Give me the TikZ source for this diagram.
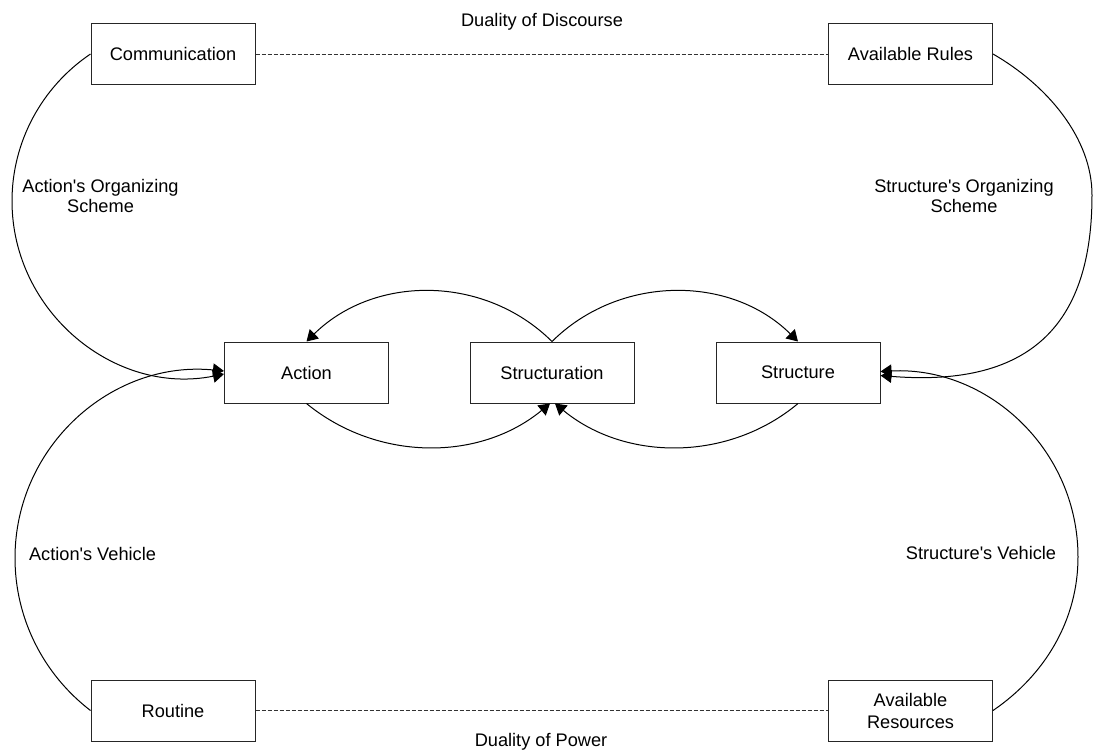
\documentclass[tikz,border=0pt]{standalone}
\usepackage{fontspec}
\setmainfont{Liberation Sans}[Ligatures=TeXOff]
\usetikzlibrary{arrows.meta}
\begin{document}
\begin{tikzpicture}[x=0.5pt,y=-0.5pt,
  every node/.style={font=\fontsize{9.1pt}{10pt}\selectfont, inner sep=0pt},
  box/.style={draw=black!85, line width=0.5pt, minimum width=82pt, minimum height=30.5pt,
    align=center, font=\fontsize{9.1pt}{11pt}\selectfont},
  lbl/.style={align=center},
  conn/.style={draw=black, line width=0.5pt, -{Triangle[length=5.5pt,width=6.5pt]}},
  duality/.style={draw=black!80, line width=0.5pt, dash pattern=on 2pt off 1pt}]
\useasboundingbox (0,0) rectangle (1093,751);

% boxes
\node[box] (comm)  at (173,54)      {Communication};
\node[box] (rules) at (910.5,54)    {Available Rules};
\node[box] (act)   at (306.5,372.5) {Action};
\node[box] (strn)  at (552,372.5)   {Structuration};
\node[box] (str)   at (798,372.5)   {Structure};
\node[box] (rout)  at (173,710.5)   {Routine};
\node[box] (res)   at (910.5,710.5) {Available\\Resources};

% dualities
\draw[duality] (comm) -- (rules);
\draw[duality] (rout) -- (res);
\node[anchor=base] (ddis) at (542,26.5) {Duality of Discourse};
\node[anchor=base] (dpow) at (541,746)  {Duality of Power};

% side labels
\node[lbl] (aos) at (100.5,196) {Action's Organizing\\Scheme};
\node[lbl] (sos) at (964,196)   {Structure's Organizing\\Scheme};
\node[anchor=base] (av) at (92.5,560) {Action's Vehicle};
\node[anchor=base] (sv) at (981,559)  {Structure's Vehicle};

% outer loops
\coordinate (ulx) at (12,201);
\coordinate (llx) at (15,558);
\coordinate (urx) at (1092,195);
\coordinate (lrx) at (1078,557);
\draw[conn] (comm.west) .. controls (41.6,87) and (12,142) .. (ulx)
  .. controls (12,312) and (115,396) .. ([yshift=-0.75pt]act.west);
\draw[conn] (rout.west) .. controls (43,674) and (15,618) .. (llx)
  .. controls (15,446) and (112,360) .. ([yshift=0.75pt]act.west);
\draw[conn] (rules.east) .. controls (1047,85) and (1092,138) .. (urx)
  .. controls (1092,320) and (1035,388) .. ([yshift=-1.5pt]str.east);
\draw[conn] (res.east) .. controls (1045,675) and (1078,620) .. (lrx)
  .. controls (1078,449) and (987,366) .. ([yshift=0.5pt]str.east);

% inner loops
\draw[conn] (strn.north) .. controls (484.6,274.6) and (374.4,274.6) .. (act.north);
\draw[conn] (strn.north) .. controls (619.4,274.6) and (730.6,274.6) .. (str.north);
\draw[conn] (act.south) .. controls (377.3,461.6) and (479.7,461.6) .. ([xshift=-1pt]strn.south);
\draw[conn] (str.south) .. controls (728.7,461.6) and (625.3,461.6) .. ([xshift=1.5pt]strn.south);
\end{tikzpicture}
\end{document}
